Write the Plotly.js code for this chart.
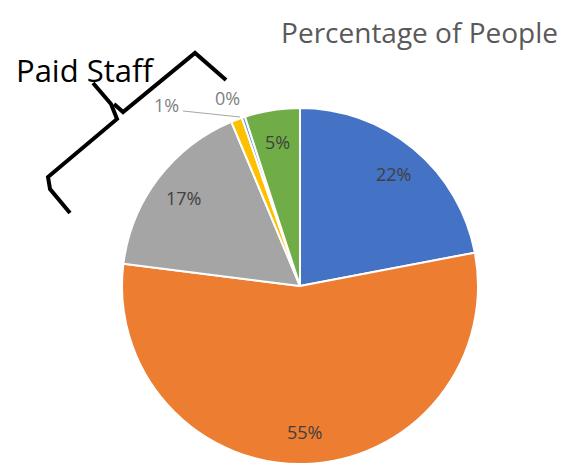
<!DOCTYPE html>
<html>
<head>
<meta charset="utf-8">
<script src="https://cdn.plot.ly/plotly-3.0.1.min.js"></script>
<style>html,body{margin:0;padding:0;background:#fff;}#chart{width:577px;height:471px;}</style>
</head>
<body>
<div id="chart"></div>
<script>
// Data (clockwise from 12 o'clock)
const categories = ["Blue group", "Orange group", "Gray group", "Paid Staff A", "Paid Staff B", "Green group"];
const values = [22, 55, 16.7, 1.0, 0.3, 5];
const colors = ["#4472C4", "#ED7D31", "#A5A5A5", "#FFC000", "#5B9BD5", "#70AD47"];
const insideLabel = [true, true, true, false, false, true];
const chartTitle = "Percentage of People";
const bracketLabel = "Paid Staff";

const W = 577, H = 471;
const px = x => x / W;
const py = y => 1 - y / H;

const total = values.reduce((a, b) => a + b, 0);
const pct = v => Math.round(v / total * 100) + "%";

function path(pts) {
  return pts.map((p, i) => (i ? "L" : "M") + px(p[0]).toFixed(4) + "," + py(p[1]).toFixed(4)).join(" ");
}

// pie geometry (pixels)
const cx = 300, cy = 286, R = 178;

const trace = {
  type: "pie",
  labels: categories,
  values: values,
  sort: false,
  direction: "clockwise",
  rotation: 0,
  marker: { colors: colors, line: { color: "#ffffff", width: 2 } },
  textinfo: "none",
  hoverinfo: "label+percent",
  domain: { x: [px(cx - R), px(cx + R)], y: [py(cy + R), py(cy - R)] },
  showlegend: false
};

// data labels placed at the middle angle of each slice (Excel-style best fit)
const annotations = [];
let cum = 0;
values.forEach((v, i) => {
  const mid = (cum + v / 2) / total * 2 * Math.PI;
  cum += v;
  if (!insideLabel[i]) return;
  const r = 0.82 * R;
  annotations.push({
    text: pct(v), xref: "paper", yref: "paper",
    x: px(cx + r * Math.sin(mid)), y: py(cy - r * Math.cos(mid)),
    xanchor: "center", yanchor: "middle", showarrow: false,
    font: { family: "Open Sans", size: 18, color: "#404040" }
  });
});
annotations.push(
  { text: bracketLabel, xref: "paper", yref: "paper", x: px(85), y: py(70), xanchor: "center", yanchor: "middle",
    showarrow: false, font: { family: "Open Sans", size: 31, color: "#000000" } },
  { text: pct(values[3]), xref: "paper", yref: "paper", x: px(166), y: py(105), xanchor: "center", yanchor: "middle",
    showarrow: false, font: { family: "Open Sans", size: 18, color: "#7f7f7f" } },
  { text: pct(values[4]), xref: "paper", yref: "paper", x: px(227), y: py(98), xanchor: "center", yanchor: "middle",
    showarrow: false, font: { family: "Open Sans", size: 18, color: "#7f7f7f" } }
);

const layout = {
  width: W, height: H,
  margin: { l: 0, r: 0, t: 0, b: 0 },
  paper_bgcolor: "#ffffff",
  plot_bgcolor: "#ffffff",
  title: {
    text: chartTitle,
    font: { family: "Open Sans", size: 28, color: "#595959" },
    x: px(558), xanchor: "right", xref: "paper",
    y: py(33), yanchor: "middle", yref: "paper"
  },
  annotations: annotations,
  shapes: [
    { type: "line", xref: "paper", yref: "paper", x0: px(183), y0: py(111), x1: px(240), y1: py(117),
      line: { color: "#a6a6a6", width: 1 } },
    { type: "path", xref: "paper", yref: "paper",
      path: path([[226, 80], [195, 53], [123, 112], [114, 104]]),
      line: { color: "#000000", width: 4 } },
    { type: "path", xref: "paper", yref: "paper",
      path: path([[93, 83], [111, 104], [117, 119], [48, 177], [50, 189], [70, 213]]),
      line: { color: "#000000", width: 4 } }
  ]
};

Plotly.newPlot("chart", [trace], layout, { displayModeBar: false, staticPlot: true });
</script>
</body>
</html>
